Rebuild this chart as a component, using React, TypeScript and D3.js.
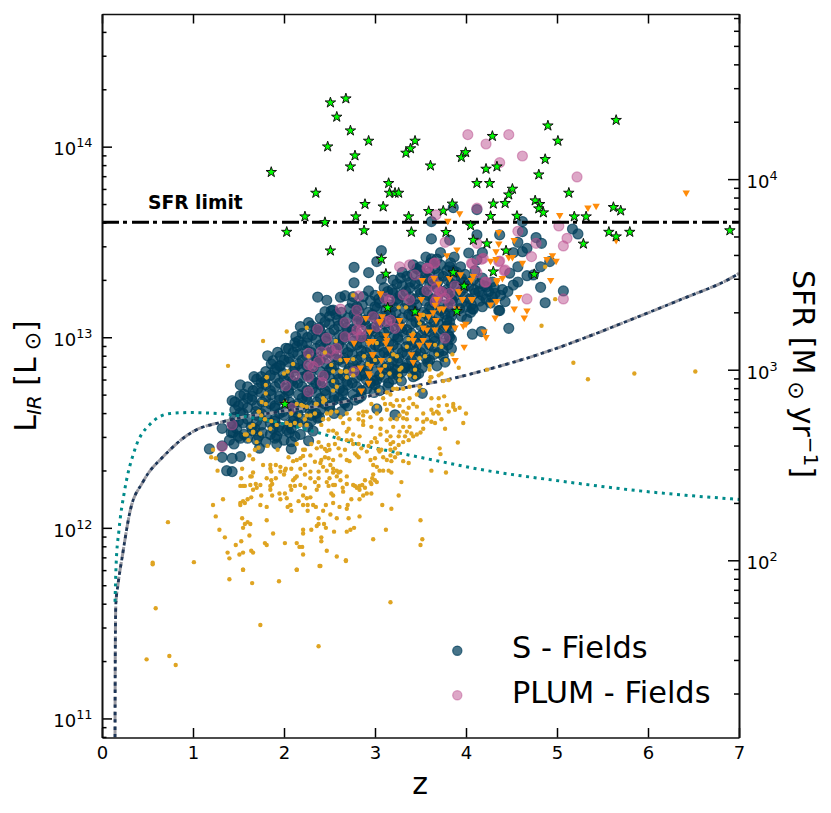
import { useRef, useEffect } from "react";
import * as d3 from "d3";

// all points are [z, log10(L_IR / Lsun)]
const sFieldsEdge: [number, number][] = [
  [3.62,13.607],[3.86,13.68],[4.12,13.67],[4.62,13.607],[4.62,13.554],[5.17,13.568],[5.23,13.542],[3.62,13.516],
  [3.82,13.51],[4.12,13.537],[4.37,13.537],[4.77,13.523],[4.83,13.493],[4.57,13.498],[4.67,13.467],[4.62,13.449],
  [3.72,13.444],[4.03,13.442],[4.18,13.444],[3.62,13.411],[3.87,13.421],[4.52,13.444],[4.57,13.37],[4.82,13.37],
  [4.92,13.397],[4.67,13.323],[4.74,13.327],[4.48,13.336],[4.57,13.29],[4.52,13.274],[4.46,13.24],[4.82,13.262],
  [5.07,13.243],[4.87,13.181],[4.43,13.187],[4.36,13.14],[4.07,13.149],[4.01,13.094],[4.32,13.23],[4.23,13.265],
  [4.12,13.406],[3.82,13.37],[4.47,13.047],[4.07,13.016],[4.17,13.03],[3.77,12.87],[3.68,12.85],[3.33,12.84],
  [3.24,12.83],[3.42,12.84],[4.08,13.147],[4.37,13.14],[3.07,13.454],[3.02,13.397],[2.77,13.367],[2.93,13.339],
  [2.77,13.286],[3.07,13.304],[2.93,13.243],[2.37,13.211],[2.47,13.194],[2.62,13.21],[2.67,13.218],[2.76,13.213],
  [2.87,13.213],[2.45,13.134],[2.54,13.143],[2.27,13.077],[2.18,13.056],[2.13,13.003],[2.12,12.97],[2.02,12.942],
  [1.93,12.921],[1.82,12.903],[1.88,12.877],[1.96,12.85],[1.67,12.793],[1.75,12.793],[1.52,12.75],[1.52,12.694],
  [1.43,12.667],[1.52,12.604],[1.43,12.549],[1.32,12.522],[1.44,12.5],[1.52,12.47],[1.32,12.43],[1.18,12.414],
  [1.32,12.37],[1.43,12.365],[1.52,12.374],[1.37,12.30],[1.43,12.295],[1.73,12.418],[1.92,12.44],[2.08,12.452],
  [2.08,12.414],[2.27,12.457],[2.32,12.508],[2.03,12.513],[2.37,12.575],[2.67,12.654],[3.02,12.624],[3.22,12.593],
  [3.52,12.706],[3.42,12.793],[3.22,12.83],[3.02,12.776],
];

const sFieldsCore: [number, number][] = [
  [3.56,13.42],[3.68,13.41],[3.42,13.38],[3.5,13.37],[3.61,13.39],[3.72,13.38],[3.83,13.39],[3.94,13.37],
  [3.3,13.34],[3.41,13.33],[3.49,13.35],[3.6,13.34],[3.7,13.33],[3.79,13.35],[3.9,13.34],[3.99,13.33],[4.1,13.35],
  [3.2,13.3],[3.28,13.31],[3.39,13.29],[3.5,13.3],[3.58,13.31],[3.69,13.29],[3.8,13.3],[3.88,13.31],[3.97,13.29],[4.08,13.3],[4.18,13.31],[4.29,13.29],
  [3.1,13.26],[3.19,13.25],[3.3,13.27],[3.38,13.26],[3.49,13.25],[3.6,13.27],[3.68,13.26],[3.79,13.25],[3.9,13.27],[3.98,13.26],[4.09,13.25],[4.2,13.27],[4.31,13.26],[4.4,13.25],
  [3.0,13.22],[3.09,13.21],[3.2,13.23],[3.28,13.22],[3.39,13.21],[3.5,13.23],[3.58,13.22],[3.69,13.21],[3.8,13.23],[3.88,13.22],[3.99,13.21],[4.1,13.23],[4.18,13.22],[4.29,13.21],[4.38,13.22],
  [2.75,13.18],[2.86,13.17],[2.95,13.19],[3.05,13.18],[3.16,13.17],[3.25,13.19],[3.35,13.18],[3.46,13.17],[3.55,13.19],[3.65,13.18],[3.76,13.17],[3.85,13.19],[3.95,13.18],[4.06,13.17],[4.15,13.19],[4.27,13.18],
  [2.52,13.14],[2.63,13.13],[2.72,13.15],[2.82,13.14],[2.93,13.13],[3.02,13.15],[3.12,13.14],[3.23,13.13],[3.32,13.15],[3.42,13.14],[3.53,13.13],[3.62,13.15],[3.72,13.14],[3.83,13.13],[3.93,13.15],[4.05,13.13],
  [2.4,13.1],[2.5,13.11],[2.59,13.09],[2.7,13.1],[2.8,13.11],[2.89,13.09],[3.0,13.1],[3.1,13.11],[3.19,13.09],[3.3,13.1],[3.4,13.11],[3.49,13.09],[3.6,13.1],[3.7,13.11],[3.79,13.09],[3.84,13.11],
  [2.3,13.06],[2.39,13.05],[2.5,13.07],[2.6,13.06],[2.69,13.05],[2.8,13.07],[2.9,13.06],[2.99,13.05],[3.1,13.07],[3.2,13.06],[3.29,13.05],[3.4,13.07],[3.5,13.06],[3.59,13.05],[3.7,13.07],[3.79,13.06],[3.84,13.05],
  [2.2,13.02],[2.31,13.01],[2.4,13.03],[2.5,13.02],[2.61,13.01],[2.7,13.03],[2.8,13.02],[2.91,13.01],[3.0,13.03],[3.1,13.02],[3.21,13.01],[3.3,13.03],[3.4,13.02],[3.51,13.01],[3.6,13.03],[3.7,13.02],[3.81,13.01],
  [2.16,12.98],[2.25,12.97],[2.35,12.99],[2.46,12.98],[2.55,12.97],[2.65,12.99],[2.76,12.98],[2.85,12.97],[2.95,12.99],[3.06,12.98],[3.15,12.97],[3.25,12.99],[3.36,12.98],[3.45,12.97],[3.55,12.99],[3.66,12.98],[3.75,12.97],[3.84,12.99],
  [2.05,12.94],[2.14,12.95],[2.25,12.93],[2.35,12.94],[2.44,12.95],[2.55,12.93],[2.65,12.94],[2.74,12.95],[2.85,12.93],[2.95,12.94],[3.04,12.95],[3.15,12.93],[3.25,12.94],[3.34,12.95],[3.45,12.93],[3.55,12.94],[3.64,12.95],[3.75,12.93],[3.84,12.94],
  [1.96,12.9],[2.06,12.89],[2.15,12.91],[2.25,12.9],[2.36,12.89],[2.45,12.91],[2.55,12.9],[2.66,12.89],[2.75,12.91],[2.85,12.9],[2.96,12.89],[3.05,12.91],[3.15,12.9],[3.26,12.89],[3.35,12.91],[3.45,12.9],[3.56,12.89],[3.65,12.91],[3.75,12.9],
  [1.86,12.86],[1.95,12.85],[2.05,12.87],[2.16,12.86],[2.25,12.85],[2.35,12.87],[2.46,12.86],[2.55,12.85],[2.65,12.87],[2.76,12.86],[2.85,12.85],[2.95,12.87],[3.06,12.86],[3.15,12.85],[3.25,12.87],[3.36,12.86],[3.45,12.85],[3.58,12.87],
  [1.8,12.82],[1.9,12.83],[1.99,12.81],[2.1,12.82],[2.2,12.83],[2.29,12.81],[2.4,12.82],[2.5,12.83],[2.59,12.81],[2.7,12.82],[2.8,12.83],[2.89,12.81],[3.0,12.82],[3.1,12.83],[3.19,12.81],[3.3,12.82],[3.4,12.83],[3.48,12.81],
  [1.7,12.78],[1.79,12.77],[1.9,12.79],[2.0,12.78],[2.09,12.77],[2.2,12.79],[2.3,12.78],[2.39,12.77],[2.5,12.79],[2.6,12.78],[2.69,12.77],[2.8,12.79],[2.9,12.78],[2.99,12.77],[3.1,12.79],[3.2,12.78],[3.29,12.77],
  [1.6,12.74],[1.71,12.73],[1.8,12.75],[1.9,12.74],[2.01,12.73],[2.1,12.75],[2.2,12.74],[2.31,12.73],[2.4,12.75],[2.5,12.74],[2.61,12.73],[2.7,12.75],[2.8,12.74],[2.91,12.73],[3.0,12.75],[3.14,12.74],
  [1.56,12.7],[1.65,12.69],[1.75,12.71],[1.86,12.7],[1.95,12.69],[2.05,12.71],[2.16,12.7],[2.25,12.69],[2.35,12.71],[2.46,12.7],[2.55,12.69],[2.65,12.71],[2.76,12.7],[2.85,12.69],[2.99,12.71],
  [1.46,12.66],[1.55,12.65],[1.65,12.67],[1.76,12.66],[1.85,12.65],[1.95,12.67],[2.06,12.66],[2.15,12.65],[2.25,12.67],[2.36,12.66],[2.45,12.65],[2.55,12.67],[2.66,12.66],[2.78,12.67],
  [1.46,12.62],[1.6,12.63],[1.69,12.61],[1.8,12.62],[1.9,12.63],[1.99,12.61],[2.1,12.62],[2.2,12.63],[2.29,12.61],[2.4,12.62],[2.5,12.63],[2.63,12.61],
  [1.46,12.58],[1.6,12.57],[1.7,12.59],[1.81,12.58],[1.9,12.57],[2.0,12.59],[2.11,12.58],[2.2,12.57],[2.3,12.59],[2.39,12.58],
  [1.44,12.54],[1.55,12.55],[1.64,12.53],[1.75,12.54],[1.85,12.55],[1.94,12.53],[2.05,12.54],[2.15,12.55],[2.26,12.53],
  [1.42,12.5],[1.56,12.49],[1.65,12.51],[1.76,12.5],[1.85,12.49],[1.95,12.51],[2.06,12.5],[2.18,12.49],
  [1.4,12.46],[1.45,12.44],[1.6,12.47],[1.7,12.46],[1.8,12.45],[1.9,12.47],[2.0,12.46],
];

// second layer of the solid part of the cloud, where single points cannot be told apart
const sFieldsDense: [number, number][] = [
  [3.46,13.36],[3.66,13.36],[3.86,13.35],[3.35,13.32],[3.55,13.32],[3.75,13.32],[3.95,13.31],[4.15,13.28],
  [3.24,13.28],[3.44,13.28],[3.64,13.28],[3.84,13.28],[4.03,13.27],[4.25,13.24],[3.14,13.24],[3.34,13.24],[3.54,13.24],[3.74,13.24],[3.94,13.24],[4.14,13.24],
  [3.04,13.2],[3.24,13.2],[3.44,13.2],[3.64,13.2],[3.84,13.2],[4.04,13.2],[4.22,13.2],[2.8,13.16],[3.0,13.16],[3.2,13.16],[3.4,13.16],[3.6,13.16],[3.8,13.16],[4.0,13.16],[4.18,13.16],
  [2.57,13.12],[2.77,13.12],[2.97,13.12],[3.17,13.12],[3.37,13.12],[3.57,13.12],[3.77,13.12],[3.95,13.11],[2.45,13.08],[2.65,13.08],[2.85,13.08],[3.05,13.08],[3.25,13.08],[3.45,13.08],[3.65,13.08],[3.82,13.08],
  [2.35,13.04],[2.55,13.04],[2.75,13.04],[2.95,13.04],[3.15,13.04],[3.35,13.04],[3.55,13.04],[3.75,13.04],[2.26,13.0],[2.45,13.0],[2.65,13.0],[2.85,13.0],[3.05,13.0],[3.25,13.0],[3.45,13.0],[3.65,13.0],[3.82,13.0],
  [2.2,12.96],[2.4,12.96],[2.6,12.96],[2.8,12.96],[3.0,12.96],[3.2,12.96],[3.4,12.96],[3.6,12.96],[3.8,12.96],[2.1,12.92],[2.3,12.92],[2.5,12.92],[2.7,12.92],[2.9,12.92],[3.1,12.92],[3.3,12.92],[3.5,12.92],[3.7,12.92],
  [2.0,12.88],[2.2,12.88],[2.4,12.88],[2.6,12.88],[2.8,12.88],[3.0,12.88],[3.2,12.88],[3.4,12.88],[3.6,12.88],[1.92,12.84],[2.12,12.84],[2.32,12.84],[2.52,12.84],[2.72,12.84],[2.92,12.84],[3.12,12.84],[3.32,12.84],[3.52,12.84],
  [1.85,12.8],[2.05,12.8],[2.25,12.8],[2.45,12.8],[2.65,12.8],[2.85,12.8],[3.05,12.8],[3.25,12.8],[3.45,12.8],[1.75,12.76],[1.95,12.76],[2.15,12.76],[2.35,12.76],[2.55,12.76],[2.75,12.76],[2.95,12.76],[3.15,12.76],
  [1.66,12.72],[1.85,12.72],[2.05,12.72],[2.25,12.72],[2.45,12.72],[2.65,12.72],[2.85,12.72],[3.05,12.72],[1.6,12.68],[1.8,12.68],[2.0,12.68],[2.2,12.68],[2.4,12.68],[2.6,12.68],[2.82,12.68],
  [1.5,12.64],[1.7,12.64],[1.9,12.64],[2.1,12.64],[2.3,12.64],[2.5,12.64],[2.7,12.64],[1.55,12.6],[1.75,12.6],[1.95,12.6],[2.15,12.6],[2.35,12.6],[2.55,12.6],
  [1.5,12.56],[1.7,12.56],[1.9,12.56],[2.1,12.56],[2.3,12.56],[1.48,12.52],[1.68,12.52],[1.88,12.52],[2.08,12.52],[1.5,12.48],[1.72,12.48],[1.92,12.48],[2.12,12.48],
];

const plumFields: [number, number][] = [
  [4.02,14.063],[4.47,14.063],[4.22,14.014],[4.62,13.951],[4.37,13.916],[5.22,13.841],[4.12,13.677],[3.67,13.642],
  [5.02,13.584],[4.57,13.556],[5.11,13.519],[5.07,13.479],[3.77,13.498],[4.77,13.493],[4.12,13.493],[4.72,13.423],
  [4.37,13.40],[4.17,13.409],[4.07,13.385],[4.67,13.201],[5.07,13.201],[4.22,13.29],[4.42,13.349],[3.66,13.391],
  [3.57,13.362],[4.12,13.339],[3.88,13.269],[3.71,13.24],[3.77,13.205],[3.57,13.245],[3.82,13.23],[3.68,13.205],
  [3.77,12.995],[3.22,13.047],[3.38,13.196],[3.13,13.082],[2.98,13.108],[3.66,13.187],[3.82,13.178],[3.65,13.388],
  [3.38,13.38],[4.19,13.414],[4.06,13.388],[4.36,13.397],[4.43,13.353],[4.21,13.289],[3.44,13.327],[3.58,13.362],
  [3.73,13.239],[3.67,13.257],[3.27,13.37],[3.31,13.222],[3.17,13.09],[3.64,13.30],[2.62,13.148],[2.82,13.217],
  [2.37,13.042],[2.47,12.995],[2.67,13.077],[2.81,13.09],[2.80,13.038],[2.85,13.038],[2.76,13.003],[2.85,13.003],
  [2.67,13.003],[2.58,12.942],[2.51,12.933],[2.41,12.924],[2.47,12.89],[2.32,12.846],[2.27,12.855],[2.38,12.872],
  [2.58,12.907],[2.27,12.916],[3.16,13.195],[3.11,13.205],[3.02,13.056],[2.80,13.143],[2.12,12.80],[2.27,12.793],
  [2.43,12.797],[2.02,12.745],[2.42,12.762],[2.27,12.714],[2.08,12.628],[1.43,12.54],[1.32,12.426],[2.77,12.82],
];

const goldPoints: [number, number][] = [
  [1.01,11.82],[1.40,11.84],[1.38,11.87],[1.51,11.86],[1.55,11.87],[1.64,11.88],[1.66,11.87],[1.47,11.91],[1.53,11.93],[1.35,11.95],
  [1.62,11.96],[1.88,11.97],[1.79,11.92],[1.81,11.91],[2.01,11.92],[2.14,11.92],[2.17,11.90],[2.20,11.90],[2.21,11.86],[2.47,11.88],
  [2.58,11.85],[2.68,11.83],[2.39,11.80],[1.55,11.78],[2.14,11.78],[2.98,11.94],[3.50,11.91],[3.52,11.94],[3.50,12.04],[2.41,11.95],
  [2.41,11.93],[2.21,11.99],[2.21,11.97],[2.30,11.99],[2.55,11.98],[2.69,11.98],[2.73,11.99],[2.77,12.0],[3.12,11.99],[1.29,11.99],
  [1.25,12.06],[1.55,12.0],[1.57,12.02],[1.60,12.03],[1.63,12.02],[1.54,12.05],[1.81,12.04],[2.36,12.01],[2.38,12.02],[2.38,12.05],
  [2.44,12.02],[2.46,12.0],[2.58,12.05],[2.71,12.05],[2.83,12.06],[2.51,12.07],[2.43,12.09],[2.26,12.09],[2.08,12.09],[1.81,12.11],
  [2.04,12.11],[2.07,12.12],[2.21,12.12],[2.26,12.12],[2.32,12.12],[2.35,12.11],[2.46,12.12],[2.61,12.11],[2.70,12.12],[2.69,12.10],
  [2.74,12.15],[2.83,12.15],[2.91,12.18],[2.96,12.18],[3.08,12.12],[3.18,12.10],[3.26,12.17],[3.29,12.24],[1.22,12.12],[1.33,12.15],
  [1.52,12.12],[1.52,12.13],[1.57,12.13],[1.60,12.15],[1.64,12.16],[1.55,12.14],[1.74,12.12],[1.75,12.17],[1.87,12.17],[1.95,12.18],
  [2.01,12.18],[1.96,12.15],[2.16,12.14],[2.21,12.17],[2.25,12.155],[2.29,12.16],[2.08,12.2],[2.12,12.22],[2.07,12.22],[1.66,12.2],
  [1.70,12.21],[1.69,12.23],[1.57,12.22],[1.52,12.22],[1.55,12.22],[1.85,12.22],[1.85,12.2],[1.87,12.23],[2.36,12.2],[2.38,12.22],
  [2.47,12.24],[2.50,12.26],[2.54,12.225],[2.56,12.225],[2.49,12.22],[2.52,12.18],[2.54,12.17],[2.65,12.19],[2.645,12.21],[2.69,12.23],
  [2.78,12.22],[2.83,12.22],[2.86,12.225],[2.89,12.21],[2.80,12.21],[2.83,12.2],[2.89,12.25],[2.95,12.24],[2.97,12.26],[3.02,12.24],
  [2.96,12.23],[2.98,12.28],[3.0,12.25],[1.53,12.26],[1.63,12.27],[1.66,12.29],[1.645,12.27],[1.81,12.26],[1.86,12.25],[1.91,12.26],
  [1.96,12.295],[2.0,12.28],[2.02,12.31],[2.08,12.31],[2.1,12.25],[2.14,12.27],[2.12,12.26],[2.23,12.28],[2.29,12.26],[2.38,12.26],
  [2.29,12.295],[2.38,12.295],[1.77,12.33],[1.85,12.33],[1.85,12.31],[1.91,12.33],[1.86,12.295],[1.54,12.31],[1.27,12.30],[2.10,12.35],
  [2.14,12.356],[2.18,12.365],[2.21,12.377],[2.29,12.38],[2.40,12.34],[2.41,12.356],[2.45,12.37],[2.49,12.365],[2.43,12.32],[2.51,12.33],
  [2.54,12.31],[2.60,12.29],[2.58,12.27],[2.54,12.29],[2.62,12.295],[2.69,12.356],[2.72,12.35],[2.78,12.39],[2.82,12.37],[2.80,12.38],
  [2.95,12.356],[3.0,12.365],[2.98,12.33],[3.02,12.32],[3.05,12.30],[3.09,12.30],[3.15,12.30],[3.18,12.29],[3.13,12.356],[3.18,12.35],
  [3.22,12.37],[3.25,12.39],[3.17,12.38],[3.37,12.34],[3.31,12.35],[3.62,12.30],[3.78,12.29],[3.71,12.417],[3.72,12.387],[3.91,12.448],
  [2.21,12.41],[2.23,12.41],[2.36,12.417],[2.41,12.426],[2.45,12.414],[2.47,12.403],[2.67,12.41],[2.56,12.44],[2.49,12.435],[2.14,12.44],
  [2.05,12.37],[1.93,12.41],[1.82,12.43],[1.66,12.36],[1.62,12.38],[1.20,12.37],[1.25,12.365],[1.22,12.41],[1.68,12.41],[1.72,12.42],
  [1.70,12.45],[1.61,12.46],[1.57,12.49],[1.66,12.50],[2.12,12.55],[2.14,12.65],[2.21,12.64],[2.25,12.54],[2.23,12.57],[1.81,12.79],
  [1.80,12.75],[1.80,12.705],[1.755,12.66],[1.80,12.65],[1.725,12.61],[1.79,12.57],[2.0,12.81],[2.17,12.59],[2.29,12.59],[2.35,12.65],
  [2.43,12.68],[2.45,12.67],[2.54,12.77],[2.58,12.74],[2.54,12.72],[2.62,12.82],[2.69,12.82],[2.47,12.60],[2.43,12.57],[2.41,12.54],
  [2.52,12.61],[2.58,12.61],[2.49,12.57],[2.51,12.60],[2.65,12.55],[2.72,12.57],[2.71,12.52],[2.87,12.56],[2.87,12.54],[2.82,12.60],
  [2.91,12.61],[2.96,12.53],[3.06,12.52],[2.54,12.51],[2.58,12.495],[2.49,12.51],[2.60,12.47],[2.69,12.46],[2.74,12.46],[2.76,12.44],
  [2.82,12.44],[2.93,12.43],[2.96,12.45],[3.02,12.45],[3.04,12.41],[3.07,12.41],[3.13,12.46],[3.17,12.44],[3.20,12.45],[3.26,12.48],
  [3.27,12.505],[3.33,12.48],[3.37,12.46],[3.42,12.48],[3.46,12.49],[3.50,12.50],[3.20,12.73],[3.24,12.73],[3.17,12.70],[3.24,12.67],
  [3.31,12.67],[3.38,12.68],[3.11,12.65],[3.20,12.64],[3.27,12.64],[3.35,12.57],[3.38,12.53],[3.31,12.53],[3.27,12.775],[3.27,12.83],
  [3.60,12.83],[3.60,12.77],[3.62,12.79],[3.62,12.68],[3.70,12.68],[3.76,12.69],[3.70,12.64],[3.79,12.644],[3.86,12.65],[3.88,12.62],
  [3.93,12.63],[4.0,12.60],[3.97,12.55],[3.77,12.52],[3.62,12.62],[3.68,12.61],[3.64,12.6],[3.57,12.57],[3.62,12.557],[3.53,12.557],
  [3.17,12.65],[3.13,12.62],[3.02,12.636],[2.96,12.65],[3.46,12.636],[3.35,12.60],[3.31,12.61],[3.75,12.77],[3.81,12.775],
  [1.385,12.85],[2.03,13.03],[1.77,12.98],[2.25,13.05],[0.557,11.817],[0.557,11.809],[1.40,11.73],[1.55,11.78],[1.65,11.71],[1.945,11.72],
  [2.14,11.78],[2.40,11.80],[2.68,11.826],[0.59,11.578],[1.74,11.49],[3.17,11.61],[2.38,11.379],[0.49,11.31],[0.74,11.328],[0.81,11.28],
  [0.725,12.03],[5.18,12.866],[5.34,12.78],[5.85,12.81],[6.52,12.82],[4.83,13.06],[4.98,13.2],[4.87,13.37],[4.23,12.83],[3.92,12.84],
  [3.85,12.91],[3.78,12.88],[3.68,12.91],[3.60,12.85],[3.61,12.79],[3.70,12.80],[3.73,12.81],[3.26,13.157],[3.34,13.157],[3.53,13.117],
  [3.49,13.073],[3.53,13.047],[3.37,12.99],[3.42,13.02],[3.02,12.97],[3.35,12.95],[3.66,12.96],[3.73,12.95],[3.49,12.89],[3.55,12.9],
  [3.20,12.91],[3.24,12.9],[3.16,12.88],[3.11,12.85],[3.29,12.84],[3.38,12.8],[3.27,12.8],[3.07,12.8],[3.44,12.83],[3.16,12.81],
  [2.76,13.22],[2.57,12.98],[2.45,12.92],[2.27,12.9],[2.10,12.86],[1.81,12.79],[2.04,12.82],[2.62,12.88],[2.69,12.88],[2.76,12.885],
  [2.88,12.9],[3.0,12.88],[2.52,12.855],[2.54,12.82],[2.63,12.82],[2.68,12.82],[2.76,12.83],[2.92,12.86],
  [2.01,12.66],[2.19,12.645],[2.08,12.60],[2.03,12.55],[2.25,12.635],[2.34,12.6],[2.36,12.65],[2.43,12.66],[2.69,12.79],[2.76,12.8],
  [2.07,12.54],[2.18,12.54],[2.25,12.59],[1.86,12.56],[1.75,12.59],[1.72,12.61],[1.66,12.54],[1.66,12.505],[1.59,12.49],[1.63,12.53],
  [1.74,12.495],[1.92,12.54],[1.85,12.52],[2.87,12.61],[3.04,12.72],[3.13,12.71],[3.09,12.68],[3.31,12.73],[3.38,12.74],[3.44,12.79],
  [3.49,12.74],[3.53,12.72],[3.46,12.70],[3.42,12.65],[3.37,12.63],[3.27,12.59],[3.24,12.57],[3.31,12.575],[3.17,12.57],[3.07,12.57],
  [3.02,12.6],[2.95,12.58],[2.87,12.59],[2.82,12.57],[2.69,12.6],[2.62,12.58],[3.2,12.53],[3.13,12.505],[3.17,12.48],[3.06,12.49],
  [3.0,12.47],[3.31,12.45],[3.40,12.495],[3.35,12.505],[3.53,12.52],[3.66,12.55],[3.73,12.57],[3.81,12.61],[3.86,12.635],[3.70,12.6],
  [3.53,12.6],[3.46,12.57],[3.22,12.417],[3.17,12.41],[3.26,12.435],[3.09,12.37],[3.05,12.4],[2.91,12.4],[2.85,12.417],[2.69,12.505],
  [2.76,12.49],[2.83,12.48],[2.60,12.417],[2.50,12.41],[2.30,12.44],[2.38,12.45],[2.62,12.38],[2.54,12.356],[2.34,12.347],[2.23,12.33],
  [2.18,12.31],[2.01,12.30],[1.96,12.32],[1.74,12.225],[1.63,12.225],[2.03,12.155],[2.54,12.13],[2.87,12.17],[2.58,12.30],[2.62,12.25],
  [2.76,12.225],[2.69,12.27],[2.47,12.30],[2.34,12.24],[2.18,12.225],[2.23,12.21],
];

const orangePoints: [number, number][] = [
  [6.42,13.759],[5.34,13.68],[5.43,13.689],[5.03,13.64],[3.93,13.65],[3.80,13.61],[5.65,13.509],[4.36,13.551],[4.36,13.491],[4.53,13.509],
  [3.90,13.46],[3.79,13.43],[4.33,13.45],[4.47,13.42],[4.51,13.42],[4.33,13.41],[4.27,13.40],[4.95,13.43],[4.89,13.41],[4.99,13.40],
  [4.62,13.39],[4.93,13.30],[4.08,13.32],[4.06,13.30],[4.40,13.31],[4.34,13.30],[4.34,13.29],[3.94,13.33],[3.82,13.31],[3.65,13.31],
  [3.70,13.281],[3.52,13.30],[3.93,13.24],[3.96,13.20],[4.07,13.20],[3.68,13.20],[3.51,13.20],[4.34,13.19],[4.27,13.171],[4.58,13.21],
  [4.67,13.14],[4.53,13.15],[4.64,13.103],[4.32,13.103],[3.90,13.15],[3.66,13.17],[3.71,13.15],[3.75,13.15],[3.64,13.13],[3.59,13.11],
  [3.49,13.117],[3.06,13.227],[3.98,12.95],[4.20,13.03],[4.22,13.0],[3.88,13.05],[3.78,13.05],[4.0,13.07],[3.97,13.06],[3.67,13.09],
  [3.66,13.04],[3.57,13.04],[3.53,13.05],[3.48,13.10],[3.27,13.09],[3.29,13.06],[3.06,13.085],[3.41,13.01],[3.12,13.01],[3.13,12.985],
  [3.42,12.985],[3.53,12.985],[3.59,12.96],[3.49,12.96],[3.16,12.94],[2.98,12.98],[2.95,12.98],[2.98,12.91],[3.07,12.88],[3.40,12.91],
  [3.42,12.87],[3.88,12.88],[2.90,13.10],[3.08,13.11],[3.05,13.08],[2.94,13.03],[2.77,12.97],[2.93,12.97],[2.97,12.98],[3.12,12.97],
  [3.06,13.23],[2.97,12.91],[2.69,12.88],[2.84,12.84],[2.95,12.85],[2.94,12.80],[3.06,12.83],[2.93,12.81],[2.93,12.76],[2.85,12.72],
  [3.92,13.24],[3.96,13.20],[4.06,13.20],[4.33,13.19],
];

const starPoints: [number, number][] = [
  [1.86,13.866],[2.51,14.231],[2.68,14.252],[2.58,14.156],[2.73,14.084],[2.48,14.0],[2.93,14.03],[2.78,13.953],[2.73,13.895],[3.44,14.03],
  [3.39,13.99],[3.34,13.967],[3.15,13.808],[3.16,13.757],[3.22,13.757],[3.26,13.757],[2.35,13.757],[2.89,13.698],[3.09,13.685],[2.23,13.633],
  [2.79,13.633],[3.37,13.633],[2.45,13.603],[2.03,13.552],[2.88,13.56],[3.40,13.552],[2.51,13.454],[3.07,13.41],[3.12,13.332],[3.14,13.155],
  [3.44,13.134],[3.61,13.90],[3.95,13.944],[3.996,13.97],[4.29,14.055],[4.90,14.11],[5.65,14.139],[5.01,14.03],[4.87,13.934],[4.34,13.895],
  [4.22,13.883],[4.80,13.853],[4.12,13.808],[4.26,13.808],[4.51,13.778],[4.47,13.748],[5.13,13.757],[4.76,13.717],[4.81,13.698],[4.80,13.675],
  [4.85,13.654],[3.85,13.70],[4.30,13.70],[4.43,13.703],[3.59,13.661],[3.75,13.663],[4.27,13.635],[4.56,13.636],[5.62,13.682],[5.70,13.664],
  [5.19,13.633],[5.32,13.633],[4.05,13.586],[3.78,13.551],[5.57,13.552],[5.65,13.528],[5.80,13.552],[6.90,13.56],[5.29,13.49],[4.08,13.51],
  [4.23,13.491],[4.44,13.454],[4.75,13.33],[3.86,13.34],[4.30,13.344],[3.98,13.269],[3.90,13.136],[2.01,12.649],
];

const limitCurve: [number, number][] = [
  [0.143,10.9],[0.146,11.36],[0.152,11.6],[0.175,11.7],[0.223,11.85],[0.31,12.09],[0.45,12.241],[0.69,12.382],[1.0,12.505],[1.33,12.557],
  [1.96,12.61],[2.58,12.654],[3.31,12.733],[3.82,12.78],[4.23,12.83],[4.78,12.907],[5.34,13.003],[5.8,13.09],[6.35,13.196],[6.94,13.318],[7,13.335],
];

const tealCurve: [number, number][] = [
  [0.143,11.612],[0.155,11.805],[0.187,11.99],[0.25,12.2],[0.36,12.41],[0.53,12.545],[0.75,12.6],[0.97,12.605],[1.44,12.592],[1.96,12.55],
  [2.4,12.496],[2.8,12.44],[3.24,12.395],[3.64,12.356],[4.15,12.307],[5.03,12.246],[5.91,12.194],[7,12.149],
];

const sfrLimitLog = 13.603;
const sfrPerLsun = 1.48e-10;
const zTicks = [0, 1, 2, 3, 4, 5, 6, 7];
const lDecades = [11, 12, 13, 14];
const sfrDecades = [2, 3, 4];
const mantissas = [2, 3, 4, 5, 6, 7, 8, 9];
const legendNames = ["S - Fields", "PLUM - Fields"];

const BLUE = "#003f5c";
const PINK = "#bc5090";
const FONT = "'DejaVu Sans', sans-serif";

export default function App() {
  const svgRef = useRef<SVGSVGElement>(null);

  useEffect(() => {
    if (!svgRef.current) return;
    const svg = d3.select(svgRef.current);
    svg.selectAll("*").remove();
    svg.attr("viewBox", "0 0 831 813").attr("font-family", FONT);

    const left = 102;
    const right = 739;
    const top = 14;
    const bottom = 737.5;

    const x = d3.scaleLinear().domain([0, 7]).range([left, right]);
    const y = d3.scaleLog().domain([10 ** 10.9, 10 ** 14.696]).range([bottom, top]);
    const ySfr = d3
      .scaleLog()
      .domain(y.domain().map((d) => d * sfrPerLsun))
      .range([bottom, top]);
    const px = (d: [number, number]) => x(d[0]);
    const py = (d: [number, number]) => y(10 ** d[1]);

    svg
      .append("clipPath")
      .attr("id", "plot-clip")
      .append("rect")
      .attr("x", left)
      .attr("y", top)
      .attr("width", right - left)
      .attr("height", bottom - top);

    const drawCircles = (pts: [number, number][], color: string, alpha: number) =>
      svg
        .append("g")
        .selectAll("circle")
        .data(pts)
        .join("circle")
        .attr("cx", px)
        .attr("cy", py)
        .attr("r", 5)
        .attr("fill", color)
        .attr("fill-opacity", alpha)
        .attr("stroke", color)
        .attr("stroke-opacity", alpha)
        .attr("stroke-width", 1.2);

    drawCircles([...sFieldsEdge, ...sFieldsCore, ...sFieldsDense], BLUE, 0.72);
    drawCircles(plumFields, PINK, 0.5);

    // curves
    const line = d3
      .line<[number, number]>()
      .x(px)
      .y(py)
      .curve(d3.curveMonotoneX);
    const curves = svg.append("g").attr("clip-path", "url(#plot-clip)").attr("fill", "none");
    curves
      .append("path")
      .attr("d", line(limitCurve))
      .attr("stroke", "#9a9aa2")
      .attr("stroke-width", 3)
      .attr("stroke-dasharray", "11 4");
    curves
      .append("path")
      .attr("d", line(limitCurve))
      .attr("stroke", "#1c3557")
      .attr("stroke-width", 2.8)
      .attr("stroke-dasharray", "3.4 4");
    curves
      .append("path")
      .attr("d", line(tealCurve))
      .attr("stroke", "#008b8b")
      .attr("stroke-width", 3)
      .attr("stroke-dasharray", "3 4.6");

    // SFR limit
    svg
      .append("path")
      .attr(
        "d",
        d3.line()([
          [x(0), y(10 ** sfrLimitLog)],
          [x(7), y(10 ** sfrLimitLog)],
        ]),
      )
      .attr("stroke", "black")
      .attr("stroke-width", 3)
      .attr("stroke-dasharray", "17 4 4 5");
    svg
      .append("text")
      .attr("x", 148)
      .attr("y", 209)
      .attr("font-size", 18.7)
      .attr("font-weight", "bold")
      .text("SFR limit");

    svg
      .append("g")
      .selectAll("circle")
      .data(goldPoints)
      .join("circle")
      .attr("cx", px)
      .attr("cy", py)
      .attr("r", 2.2)
      .attr("fill", "#dfa422");

    const triangle = d3.symbol(d3.symbolTriangle, 24)();
    svg
      .append("g")
      .selectAll("path")
      .data(orangePoints)
      .join("path")
      .attr("d", triangle)
      .attr("transform", (d) => `translate(${px(d)},${py(d)}) rotate(180)`)
      .attr("fill", "#ff8c0a");

    const star = d3.symbol(d3.symbolStar, 34)();
    svg
      .append("g")
      .selectAll("path")
      .data(starPoints)
      .join("path")
      .attr("d", star)
      .attr("transform", (d) => `translate(${px(d)},${py(d)})`)
      .attr("fill", "#00ff00")
      .attr("stroke", "#111")
      .attr("stroke-width", 1);

    // axes
    const minorOf = (decades: number[], domain: number[]) =>
      decades
        .flatMap((e) => mantissas.map((m) => m * 10 ** e))
        .filter((v) => v >= domain[0] && v <= domain[1]);
    const styleAxis = (g: d3.Selection<SVGGElement, unknown, null, undefined>) => {
      g.selectAll(".domain").attr("stroke", "#111").attr("stroke-width", 1.6);
      g.selectAll(".tick line").attr("stroke", "black").attr("stroke-width", 1.5);
    };
    const powerLabel = (
      g: d3.Selection<SVGGElement, unknown, null, undefined>,
      xPos: number,
      anchor: string,
    ) => {
      g.selectAll<SVGTextElement, number>(".tick text").each(function (d) {
        const t = d3.select(this);
        t.text(null)
          .attr("x", xPos)
          .attr("dy", null)
          .attr("y", 8.3)
          .attr("text-anchor", anchor)
          .attr("font-size", 18)
          .attr("fill", "black");
        t.append("tspan").text("10");
        t.append("tspan")
          .attr("dy", -8)
          .attr("font-size", 12.8)
          .text(String(Math.round(Math.log10(d))));
      });
    };

    const xBottom = svg
      .append("g")
      .attr("transform", `translate(0,${bottom})`)
      .call(d3.axisBottom(x).tickValues(zTicks).tickFormat(d3.format("d")).tickSize(-9.5).tickSizeOuter(0).tickPadding(0));
    xBottom.selectAll(".tick text").attr("y", 21.5).attr("dy", null).attr("font-size", 18).attr("font-family", FONT).attr("fill", "black");
    styleAxis(xBottom);
    const xTop = svg
      .append("g")
      .attr("transform", `translate(0,${top})`)
      .call(d3.axisTop(x).tickValues(zTicks).tickFormat(() => "").tickSize(-9.5).tickSizeOuter(0));
    styleAxis(xTop);

    const yMajor = svg
      .append("g")
      .attr("transform", `translate(${left},0)`)
      .call(d3.axisLeft(y).tickValues(lDecades.map((e) => 10 ** e)).tickSize(-10).tickSizeOuter(0));
    powerLabel(yMajor, -9.5, "end");
    yMajor.attr("font-family", FONT);
    styleAxis(yMajor);
    const yMinor = svg
      .append("g")
      .attr("transform", `translate(${left},0)`)
      .call(d3.axisLeft(y).tickValues(minorOf([10, ...lDecades], y.domain())).tickFormat(() => "").tickSize(-4.5).tickSizeOuter(0));
    styleAxis(yMinor);

    const rMajor = svg
      .append("g")
      .attr("transform", `translate(${right},0)`)
      .call(d3.axisRight(ySfr).tickValues(sfrDecades.map((e) => 10 ** e)).tickSize(-11).tickSizeOuter(0));
    powerLabel(rMajor, 7.5, "start");
    rMajor.attr("font-family", FONT);
    styleAxis(rMajor);
    const rMinor = svg
      .append("g")
      .attr("transform", `translate(${right},0)`)
      .call(d3.axisRight(ySfr).tickValues(minorOf([1, ...sfrDecades], ySfr.domain())).tickFormat(() => "").tickSize(-5).tickSizeOuter(0));
    styleAxis(rMinor);

    // axis titles
    svg
      .append("text")
      .attr("x", 420)
      .attr("y", 794)
      .attr("text-anchor", "middle")
      .attr("font-size", 30)
      .text("z");

    const yTitle = svg
      .append("text")
      .attr("transform", "translate(36,376) rotate(-90)")
      .attr("text-anchor", "middle")
      .attr("font-size", 30);
    yTitle.append("tspan").text("L");
    yTitle.append("tspan").attr("dy", 5).attr("font-size", 20).attr("font-style", "italic").text("IR");
    yTitle.append("tspan").attr("dy", -5).text(" [L");
    yTitle.append("tspan").attr("dy", 4).attr("font-size", 22).text(" ⊙");
    yTitle.append("tspan").attr("dy", -4).text("]");

    const rTitle = svg
      .append("text")
      .attr("transform", "translate(793,374) rotate(90)")
      .attr("text-anchor", "middle")
      .attr("font-size", 30);
    rTitle.append("tspan").text("SFR [M");
    rTitle.append("tspan").attr("dy", 4).attr("font-size", 22).text(" ⊙ ");
    rTitle.append("tspan").attr("dy", -4).text("yr");
    rTitle.append("tspan").attr("dy", -11).attr("font-size", 20).text("−1");
    rTitle.append("tspan").attr("dy", 11).text("]");

    // legend
    const legendY = [650.7, 695.3];
    const legendColor = [BLUE, PINK];
    const legendAlpha = [0.72, 0.5];
    const legendText = [658.3, 703.3];
    legendNames.forEach((name, i) => {
      svg
        .append("circle")
        .attr("cx", 457.3)
        .attr("cy", legendY[i])
        .attr("r", 4.6)
        .attr("fill", legendColor[i])
        .attr("fill-opacity", legendAlpha[i])
        .attr("stroke", legendColor[i])
        .attr("stroke-opacity", legendAlpha[i])
        .attr("stroke-width", 1.2);
      svg
        .append("text")
        .attr("x", 512)
        .attr("y", legendText[i])
        .attr("font-size", 30.4)
        .text(name);
    });
  }, []);

  return (
    <svg
      ref={svgRef}
      width={831}
      height={813}
      style={{ position: "absolute", left: 0, top: 0, background: "white" }}
    />
  );
}
